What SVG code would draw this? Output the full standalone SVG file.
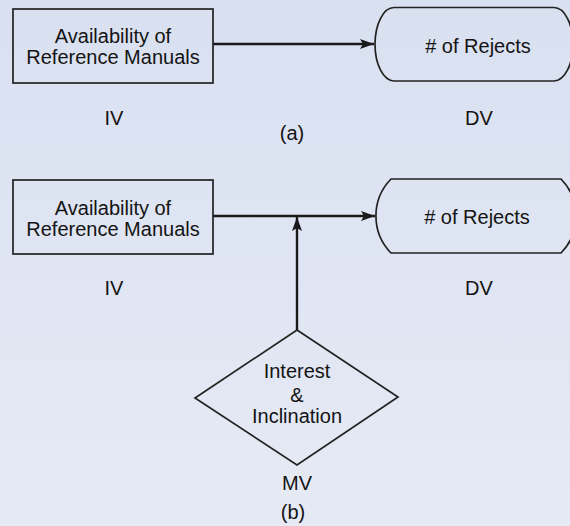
<svg xmlns="http://www.w3.org/2000/svg" width="570" height="526" viewBox="0 0 570 526">
  <defs>
    <linearGradient id="paper" x1="0" y1="0" x2="0" y2="1">
      <stop offset="0" stop-color="#d9e0f0"/>
      <stop offset="0.5" stop-color="#dfe5f3"/>
      <stop offset="1" stop-color="#e6eaf4"/>
    </linearGradient>
    <marker id="arrow" markerUnits="userSpaceOnUse" markerWidth="16" markerHeight="12" refX="14" refY="5" orient="auto">
      <path d="M0,0 L14,5 L0,10 L3,5 Z" fill="#1a1a1a"/>
    </marker>
  </defs>
  <style>
    .shape { fill: none; stroke: #222; stroke-width: 1.7; }
    .link { fill: none; stroke: #1a1a1a; stroke-width: 2.4; }
    text { font-family: "Liberation Sans", Arial, sans-serif; font-size: 20px; fill: #141414; text-anchor: middle; }
  </style>

  <rect width="570" height="526" fill="url(#paper)"/>

  <!-- connectors -->
  <g id="connectors">
    <line class="link" x1="213" y1="44" x2="374" y2="44" marker-end="url(#arrow)"/>
    <line class="link" x1="213" y1="216" x2="375" y2="216" marker-end="url(#arrow)"/>
    <line class="link" x1="297" y1="330" x2="297" y2="217" marker-end="url(#arrow)"/>
  </g>

  <!-- (a) -->
  <g id="iv-a">
    <rect class="shape" x="13" y="9" width="200" height="74"/>
    <text x="113" y="43">Availability of</text>
    <text x="113" y="64">Reference Manuals</text>
  </g>
  <g id="dv-a">
    <path class="shape" d="M394,7.5 H554 A19,36.75 0 0 1 554,81 H394 A19,36.75 0 0 1 394,7.5 Z"/>
    <text x="478" y="53"># of Rejects</text>
  </g>
  <g id="labels-a">
    <text x="114" y="125">IV</text>
    <text x="479" y="125">DV</text>
    <text x="292" y="140">(a)</text>
  </g>

  <!-- (b) -->
  <g id="iv-b">
    <rect class="shape" x="13" y="180" width="200" height="74"/>
    <text x="113" y="215">Availability of</text>
    <text x="113" y="236">Reference Manuals</text>
  </g>
  <g id="dv-b">
    <path class="shape" d="M391,179 H561 A53,53 0 0 1 561,253 H391 A53,53 0 0 1 391,179 Z"/>
    <text x="477" y="224"># of Rejects</text>
  </g>
  <g id="mv-b">
    <polygon class="shape" points="297,330 398,397 297,465 195,398"/>
    <text x="297" y="378">Interest</text>
    <text x="297" y="402">&amp;</text>
    <text x="297" y="423">Inclination</text>
  </g>
  <g id="labels-b">
    <text x="114" y="295">IV</text>
    <text x="479" y="295">DV</text>
    <text x="297" y="490">MV</text>
    <text x="293" y="519">(b)</text>
  </g>
</svg>
